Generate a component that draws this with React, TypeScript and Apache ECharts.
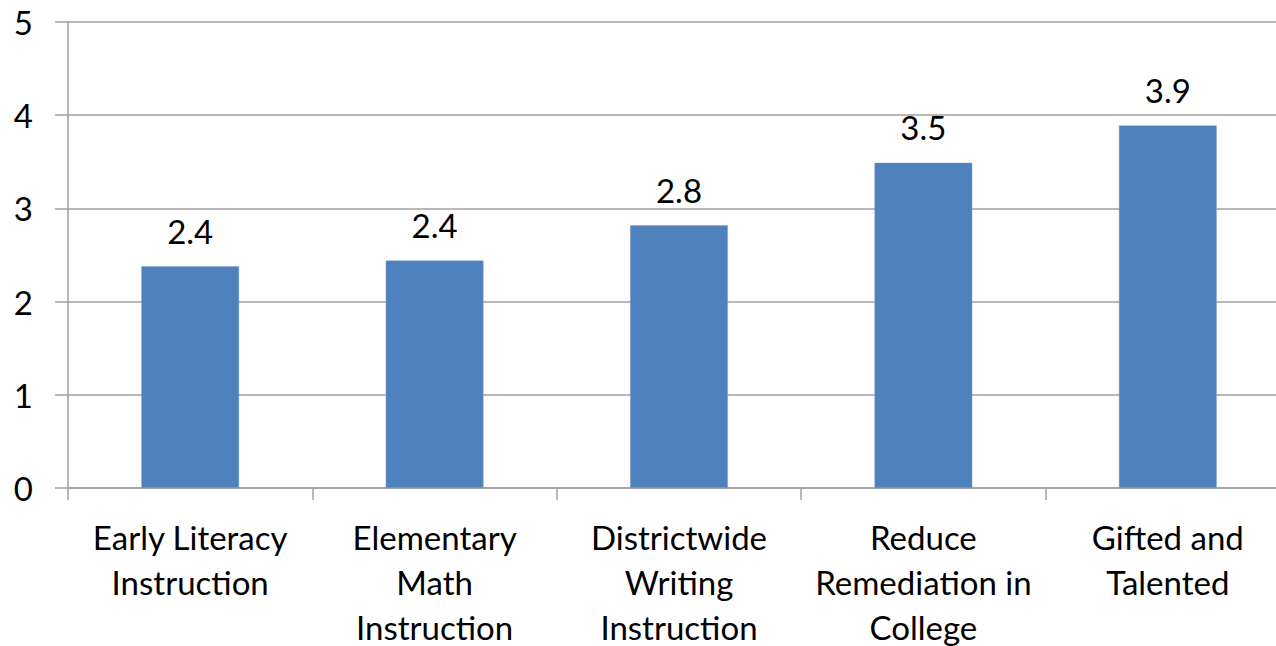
import React, { useEffect, useRef } from "react";
import * as echarts from "echarts";

const categories = [
  "Early Literacy\nInstruction",
  "Elementary\nMath\nInstruction",
  "Districtwide\nWriting\nInstruction",
  "Reduce\nRemediation in\nCollege",
  "Gifted and\nTalented",
];
const values = [2.38, 2.44, 2.82, 3.49, 3.89];
const yTicks = { min: 0, max: 5, interval: 1 };

const FONT = "Lato";
const FS = 33;

export default function App() {
  const ref = useRef<HTMLDivElement>(null);
  useEffect(() => {
    document.body.style.margin = "0";
    const chart = echarts.init(ref.current!, null, { renderer: "svg" });
    chart.setOption({
      animation: false,
      grid: {
        left: 68,
        top: 22,
        width: 1222,
        bottom: 158,
        containLabel: false,
        outerBoundsMode: "none",
      },
      xAxis: {
        type: "category",
        data: categories,
        axisLine: { show: true, lineStyle: { color: "#A0A0A0", width: 1.5 } },
        axisTick: { show: true, length: 12, lineStyle: { color: "#A0A0A0", width: 1.5 } },
        axisLabel: {
          interval: 0,
          margin: 26,
          fontFamily: FONT,
          fontSize: FS,
          lineHeight: 45,
          color: "#000",
        },
      },
      yAxis: {
        type: "value",
        min: yTicks.min,
        max: yTicks.max,
        interval: yTicks.interval,
        axisLine: { show: true, lineStyle: { color: "#A0A0A0", width: 1.5 } },
        axisTick: { show: true, length: 13, lineStyle: { color: "#A0A0A0", width: 1.5 } },
        splitLine: { show: true, lineStyle: { color: "#A0A0A0", width: 1.5 } },
        axisLabel: {
          margin: 35,
          fontFamily: FONT,
          fontSize: FS,
          color: "#000",
        },
      },
      series: [
        {
          type: "bar",
          data: values,
          barWidth: "40%",
          itemStyle: { color: "#4F81BD", borderColor: "#7FA3D0", borderWidth: 0.5 },
          label: {
            show: true,
            position: "top",
            distance: 19,
            fontFamily: FONT,
            fontSize: FS,
            color: "#000",
            formatter: (p: any) => Number(p.value).toFixed(1),
          },
        },
      ],
    });
    return () => chart.dispose();
  }, []);
  return <div ref={ref} style={{ width: 1276, height: 646 }} />;
}
